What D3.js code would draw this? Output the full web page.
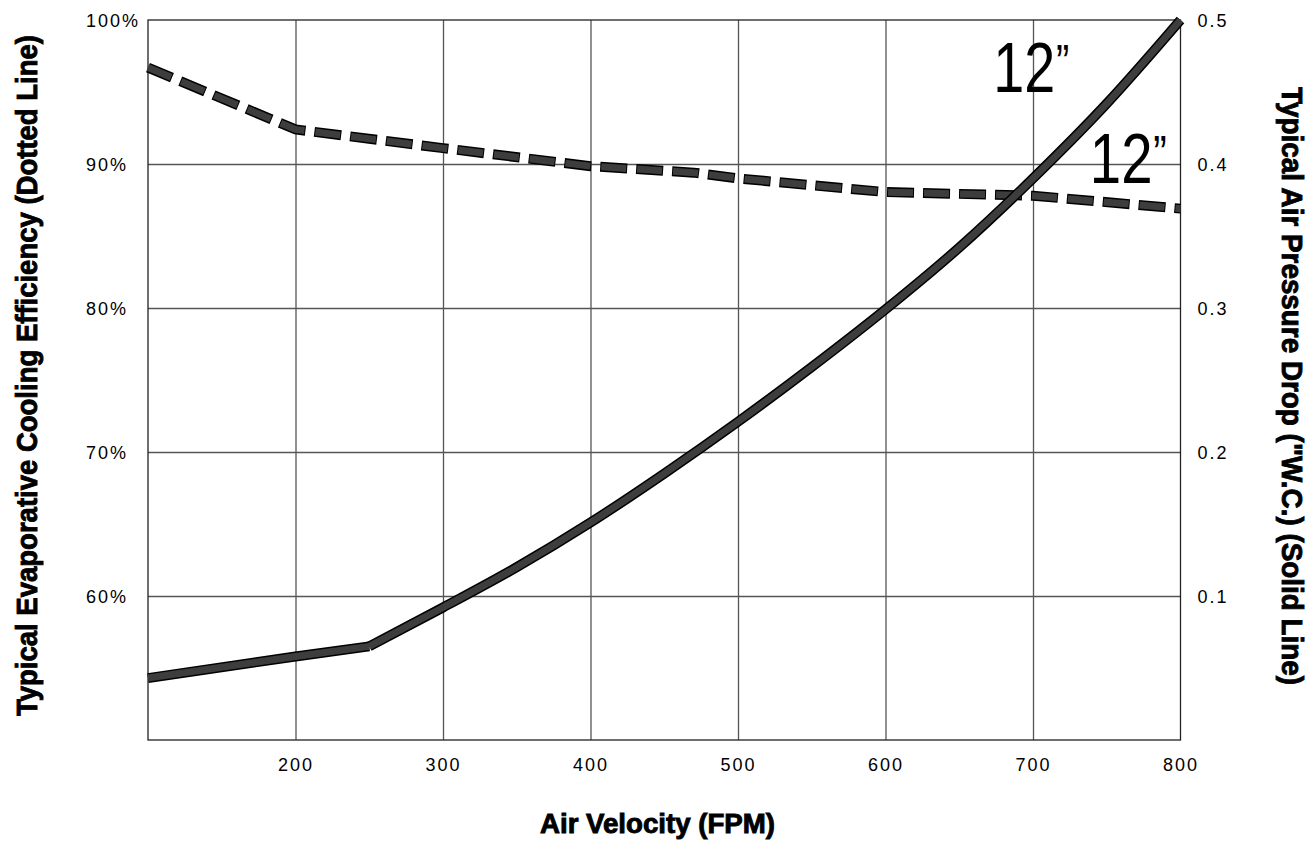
<!DOCTYPE html>
<html>
<head>
<meta charset="utf-8">
<script src="https://cdn.jsdelivr.net/npm/d3@7"></script>
<style>
  body { margin: 0; background: #fff; }
  .tick text { font-family: "Liberation Sans", Arial, sans-serif; font-size: 18px; letter-spacing: 2px; fill: #000; }
  .title { font-family: "Liberation Sans", Arial, sans-serif; font-weight: bold; fill: #000; stroke: #000; stroke-width: 0.9px; }
  .big { font-family: "Liberation Sans", Arial, sans-serif; fill: #000; }
</style>
</head>
<body>
<div id="chart"></div>
<script>

////////////////////
// DATA

// solid line - air pressure drop ("W.C.), right axis
var pressureFpm = [100, 200, 250, 300, 350, 400, 450, 500, 550, 600, 650, 700, 750, 800];
var pressureVal = [0.043, 0.058, 0.065, 0.092, 0.120, 0.151, 0.185, 0.221, 0.259, 0.299, 0.342, 0.390, 0.442, 0.5];

// dotted line - cooling efficiency (%), left axis
var effFpm = [100, 200, 300, 400, 470, 500, 600, 700, 800];
var effVal = [96.7, 92.4, 91.1, 89.85, 89.4, 89.0, 88.05, 87.8, 86.9];

var xTicks = [200, 300, 400, 500, 600, 700, 800];
var xGrid = [200, 300, 400, 500, 600, 700];
var leftTicks = [60, 70, 80, 90, 100];
var rightTicks = [0.1, 0.2, 0.3, 0.4, 0.5];

// "12"" labels (fpm, efficiency)
var labelFpm = [673, 738.5];
var labelEff = [95.0, 88.7];

////////////////////
// LAYOUT
var w = 1316;
var h = 850;
var margin = {top: 20, right: 135.5, bottom: 110, left: 148};
var width = w - margin.left - margin.right;
var height = h - margin.top - margin.bottom;

var x = d3.scaleLinear().domain([100, 800]).range([0, width]);
var yL = d3.scaleLinear().domain([50, 100]).range([height, 0]);
var yR = d3.scaleLinear().domain([0, 0.5]).range([height, 0]);

var svg = d3.select("#chart").append("svg")
  .attr("width", w)
  .attr("height", h);

var g = svg.append("g")
  .attr("transform", "translate(" + margin.left + "," + margin.top + ")");

////////////////////
// GRID
g.append("g")
  .attr("class", "grid")
  .attr("transform", "translate(0," + height + ")")
  .call(d3.axisBottom(x).tickValues(xGrid).tickSize(-height).tickFormat(""))
  .call(function(s) {
    s.select(".domain").remove();
    s.selectAll("line").attr("stroke", "#555").attr("stroke-width", 1.3);
  });

g.append("g")
  .attr("class", "grid")
  .call(d3.axisLeft(yL).tickValues([60, 70, 80, 90]).tickSize(-width).tickFormat(""))
  .call(function(s) {
    s.select(".domain").remove();
    s.selectAll("line").attr("stroke", "#555").attr("stroke-width", 1.3);
  });

// frame
g.append("rect")
  .attr("x", 0).attr("y", 0)
  .attr("width", width).attr("height", height)
  .attr("fill", "none")
  .attr("stroke", "#222")
  .attr("stroke-width", 1.3);

////////////////////
// AXES (labels only)
g.append("g")
  .attr("transform", "translate(0," + height + ")")
  .call(d3.axisBottom(x).tickValues(xTicks).tickSize(0).tickPadding(30))
  .call(function(s) {
    s.select(".domain").remove();
    s.selectAll("text").attr("dy", "0.08em");
  });

g.append("g")
  .call(d3.axisLeft(yL).tickValues(leftTicks).tickSize(0).tickFormat(function(d) { return d + "%"; }))
  .call(function(s) {
    s.select(".domain").remove();
    s.selectAll("text")
      .attr("x", -62)
      .attr("dy", "0.38em")
      .attr("text-anchor", "start");
  });

g.append("g")
  .attr("transform", "translate(" + width + ",0)")
  .call(d3.axisRight(yR).tickValues(rightTicks).tickSize(0).tickFormat(d3.format(".1f")))
  .call(function(s) {
    s.select(".domain").remove();
    s.selectAll("text")
      .attr("x", 17)
      .attr("dy", "0.38em");
  });

////////////////////
// LINES
var pressureData = pressureFpm.map(function(d, i) { return {x: d, y: pressureVal[i]}; });
var effData = effFpm.map(function(d, i) { return {x: d, y: effVal[i]}; });

// straight part up to 250 fpm, smooth curve after the kink
var pressureStraight = pressureData.slice(0, 3);
var pressureCurve = pressureData.slice(2);

var lineStraight = d3.line()
  .x(function(d) { return x(d.x); })
  .y(function(d) { return yR(d.y); });
var lineCurve = d3.line()
  .curve(d3.curveMonotoneX)
  .x(function(d) { return x(d.x); })
  .y(function(d) { return yR(d.y); });

var effLine = d3.line()
  .x(function(d) { return x(d.x); })
  .y(function(d) { return yL(d.y); });

// dotted (dashed) efficiency line
g.append("path")
  .datum(effData)
  .attr("d", effLine)
  .attr("fill", "none")
  .attr("stroke", "#000")
  .attr("stroke-width", 10)
  .attr("stroke-dasharray", "27,9")
  .attr("stroke-dashoffset", 1);
g.append("path")
  .datum(effData)
  .attr("d", effLine)
  .attr("fill", "none")
  .attr("stroke", "#3d3d3d")
  .attr("stroke-width", 7)
  .attr("stroke-dasharray", "25,11")
  .attr("stroke-dashoffset", 0);

// solid pressure line - outline first, then fill
[[pressureStraight, lineStraight], [pressureCurve, lineCurve]].forEach(function(p) {
  g.append("path")
    .datum(p[0])
    .attr("d", p[1])
    .attr("fill", "none")
    .attr("stroke", "#000")
    .attr("stroke-width", 10)
    .attr("stroke-linejoin", "round");
});
[[pressureStraight, lineStraight], [pressureCurve, lineCurve]].forEach(function(p) {
  g.append("path")
    .datum(p[0])
    .attr("d", p[1])
    .attr("fill", "none")
    .attr("stroke", "#3d3d3d")
    .attr("stroke-width", 7)
    .attr("stroke-linejoin", "round");
});

////////////////////
// 12" LABELS
var lbl = g.selectAll(".lbl")
  .data(labelFpm)
  .enter().append("text")
  .attr("class", "big")
  .attr("font-size", 70)
  .attr("x", function(d) { return x(d); })
  .attr("y", function(d, i) { return yL(labelEff[i]); })
  .attr("textLength", function(d, i) { return i == 0 ? 76 : 77; })
  .attr("lengthAdjust", "spacingAndGlyphs");

lbl.append("tspan").text("12");
lbl.append("tspan")
  .attr("font-size", 50)
  .attr("dx", 1)
  .attr("dy", -12)
  .text("\u201D");

////////////////////
// TITLES
svg.append("text")
  .attr("class", "title")
  .attr("x", 657.5)
  .attr("y", 833)
  .attr("font-size", 27)
  .attr("text-anchor", "middle")
  .attr("textLength", 235)
  .attr("lengthAdjust", "spacingAndGlyphs")
  .text("Air Velocity (FPM)");

svg.append("text")
  .attr("class", "title")
  .attr("transform", "translate(37,375.5) rotate(-90)")
  .attr("font-size", 30)
  .attr("text-anchor", "middle")
  .attr("textLength", 681)
  .attr("lengthAdjust", "spacingAndGlyphs")
  .text("Typical Evaporative Cooling Efficiency (Dotted Line)");

svg.append("text")
  .attr("class", "title")
  .attr("transform", "translate(1282,386) rotate(90)")
  .attr("font-size", 30)
  .attr("text-anchor", "middle")
  .attr("textLength", 598)
  .attr("lengthAdjust", "spacingAndGlyphs")
  .text("Typical Air Pressure Drop (\"W.C.) (Solid Line)");

</script>
</body>
</html>
